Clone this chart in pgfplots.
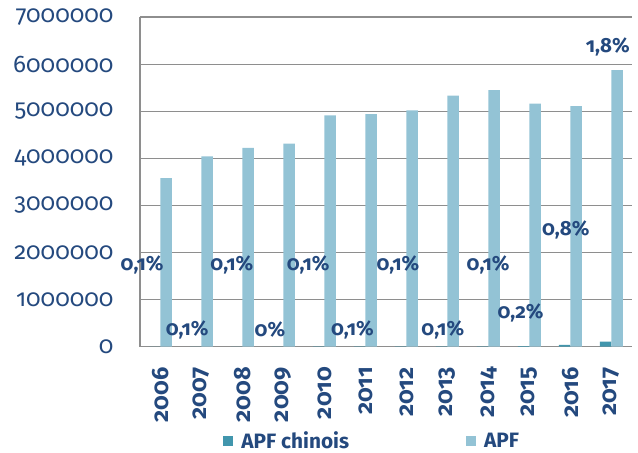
\documentclass[border=0pt]{standalone}
\usepackage{fontspec}
\setmainfont{Fira Sans}[Numbers=OldStyle]
\usepackage{pgfplots}
\usepackage{pgfplotstable}
\pgfplotsset{compat=1.18}

\definecolor{txtblue}{HTML}{24497E}
\definecolor{apf}{HTML}{93C3D5}
\definecolor{apfcn}{HTML}{4196AD}
\definecolor{gridgray}{HTML}{8E8E8E}

\tikzset{datalab/.style={font=\bfseries\fontsize{20.5}{20.5}\selectfont, text=txtblue}}

% APF totals and the Chinese share, per year
\pgfplotstableread{
x year apfcn apf
0  2006 3580   3580000
1  2007 4040   4040000
2  2008 4220   4220000
3  2009 1700   4310000
4  2010 4910   4910000
5  2011 4940   4940000
6  2012 5020   5020000
7  2013 5330   5330000
8  2014 5450   5450000
9  2015 10320  5160000
10 2016 40900  5110000
11 2017 105660 5870000
}\data

\begin{document}
\begin{tikzpicture}
\begin{axis}[
  scale only axis,
  width=492pt, height=329.7pt,
  ybar=0pt, bar width=11.5pt,
  xmin=-0.5, xmax=11.5,
  ymin=0, ymax=7000000,
  xtick={0,...,11},
  xticklabels={2006,2007,2008,2009,2010,2011,2012,2013,2014,2015,2016,2017},
  ytick={0,1000000,2000000,3000000,4000000,5000000,6000000,7000000},
  scaled y ticks=false,
  /pgf/number format/assume math mode=true,
  yticklabel style={/pgf/number format/fixed, /pgf/number format/1000 sep={},
    font=\fontsize{24}{24}\selectfont, text=txtblue, xshift=-23pt},
  xticklabel style={rotate=90, anchor=east, font=\bfseries\fontsize{23.5}{23.5}\selectfont,
    text=txtblue, xshift=-17pt},
  axis x line=bottom, axis y line=left,
  axis line style={-, gridgray, line width=1.2pt},
  ymajorgrids, grid style={gridgray, line width=1.2pt},
  major tick length=0pt,
  clip=false,
  legend columns=2,
  legend style={at={(rel axis cs:0.472,-0.285)}, anchor=center, draw=none,
    font=\bfseries\fontsize{20.8}{20.8}\selectfont, text=txtblue,
    /tikz/every even column/.append style={column sep=115pt}},
  legend image code/.code={\fill[#1] (0pt,-5pt) rectangle (10pt,5pt); \path (16pt,0pt);},
]
\addplot[draw=none, fill=apfcn] table[x=x, y=apfcn] {\data};
\addplot[draw=none, fill=apf] table[x=x, y=apf] {\data};
\legend{APF chinois, APF}

\node[datalab] at (axis cs:-0.45,1736000) {0,1\%};
\node[datalab] at (axis cs:0.65,355000)  {0,1\%};
\node[datalab] at (axis cs:1.74,1736000) {0,1\%};
\node[datalab] at (axis cs:2.67,355000)  {0\%};
\node[datalab] at (axis cs:3.60,1736000) {0,1\%};
\node[datalab] at (axis cs:4.68,355000)  {0,1\%};
\node[datalab] at (axis cs:5.79,1736000) {0,1\%};
\node[datalab] at (axis cs:6.885,355000) {0,1\%};
\node[datalab] at (axis cs:7.99,1736000) {0,1\%};
\node[datalab] at (axis cs:8.78,716000)  {0,2\%};
\node[datalab] at (axis cs:9.885,2480000) {0,8\%};
\node[datalab] at (axis cs:10.91,6375000) {1,8\%};

\coordinate (O) at (rel axis cs:0,0);
\end{axis}
\pgfresetboundingbox
\path[use as bounding box] ([shift={(-140pt,-106.3pt)}]O) rectangle ([shift={(498pt,346.7pt)}]O);
\end{tikzpicture}
\end{document}
